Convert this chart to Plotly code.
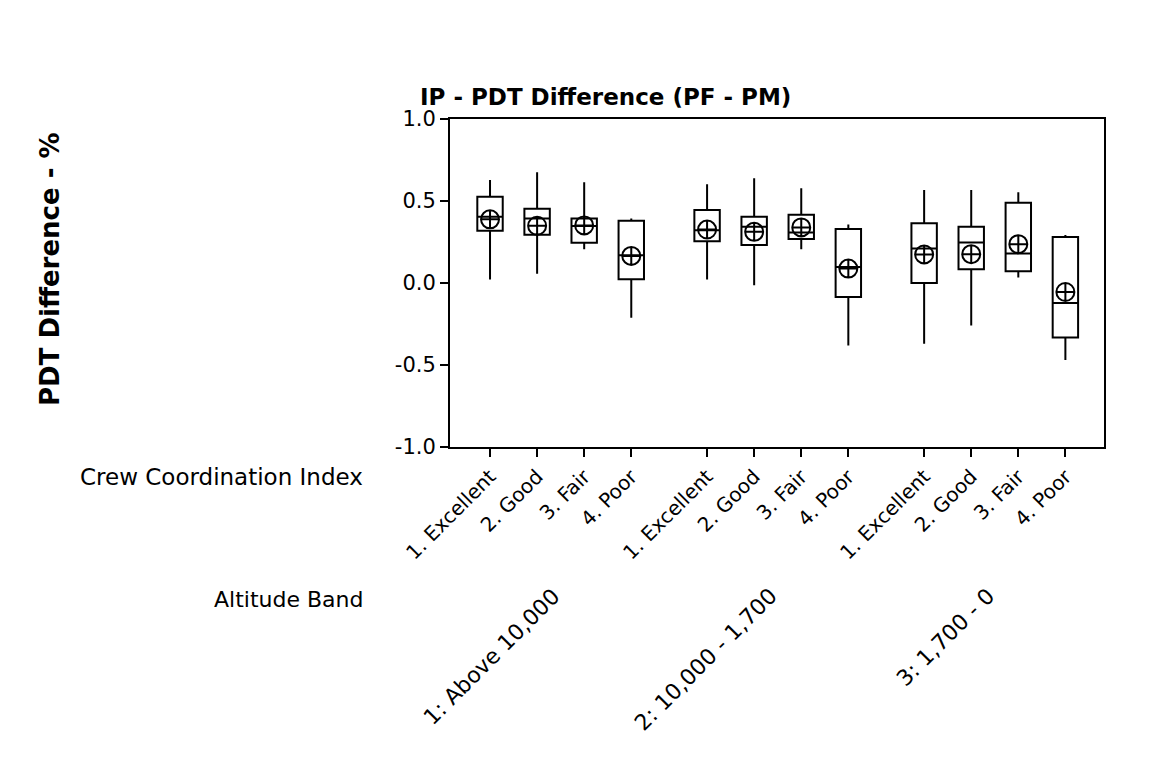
import plotly.graph_objects as go

# Crew coordination index within each altitude band
crew_levels = ["1. Excellent", "2. Good", "3. Fair", "4. Poor"]
altitude_bands = ["1: Above 10,000", "2: 10,000 - 1,700", "3: 1,700 - 0"]

# Box statistics per (band, crew level), in band order
whisker_low = [0.021, 0.057, 0.206, -0.212,
               0.021, -0.014, 0.206, -0.381,
               -0.371, -0.259, 0.033, -0.469]
q1_vals = [0.318, 0.294, 0.245, 0.023,
           0.255, 0.231, 0.269, -0.086,
           0.000, 0.084, 0.072, -0.332]
median_vals = [0.404, 0.394, 0.347, 0.169,
               0.322, 0.343, 0.308, 0.098,
               0.210, 0.247, 0.180, -0.122]
q3_vals = [0.526, 0.453, 0.394, 0.379,
           0.445, 0.404, 0.416, 0.330,
           0.365, 0.343, 0.489, 0.281]
whisker_high = [0.628, 0.675, 0.614, 0.394,
                0.602, 0.638, 0.577, 0.357,
                0.567, 0.567, 0.553, 0.292]
mean_vals = [0.388, 0.349, 0.351, 0.165,
             0.326, 0.312, 0.339, 0.088,
             0.174, 0.176, 0.237, -0.055]

y_ticks = [-1.0, -0.5, 0.0, 0.5, 1.0]

FONT = "DejaVu Sans"
GROUP_GAP = 1.61  # spacing between altitude bands, in box units

xpos = []
xlabels = []
for g, band in enumerate(altitude_bands):
    for i, lvl in enumerate(crew_levels):
        xpos.append(g * (len(crew_levels) - 1 + GROUP_GAP) + i)
        xlabels.append(lvl)

group_centers = [sum(xpos[g * 4:(g + 1) * 4]) / 4 for g in range(len(altitude_bands))]

fig = go.Figure()

fig.add_trace(go.Box(
    x=xpos,
    q1=q1_vals,
    median=median_vals,
    q3=q3_vals,
    lowerfence=whisker_low,
    upperfence=whisker_high,
    width=0.54,
    whiskerwidth=0,
    fillcolor="white",
    line=dict(color="black", width=2),
    boxpoints=False,
    showlegend=False,
    hoverinfo="skip",
))

fig.add_trace(go.Scatter(
    x=xpos,
    y=mean_vals,
    mode="markers",
    marker=dict(symbol="circle-cross-open", size=18,
                color="black", line=dict(color="black", width=2)),
    showlegend=False,
    hoverinfo="skip",
))

fig.update_xaxes(
    range=[-0.85, 13.04],
    tickmode="array",
    tickvals=xpos,
    ticktext=xlabels,
    tickangle=-45,
    ticks="outside",
    ticklen=8,
    tickwidth=2,
    tickcolor="black",
    showline=True,
    linecolor="black",
    linewidth=2,
    mirror=True,
    showgrid=False,
    zeroline=False,
    tickfont=dict(family=FONT, size=20, color="black"),
)

fig.update_yaxes(
    range=[-1.0, 1.0],
    tickmode="array",
    tickvals=y_ticks,
    ticktext=[f"{v:.1f}" for v in y_ticks],
    ticks="outside",
    ticklen=8,
    tickwidth=2,
    tickcolor="black",
    showline=True,
    linecolor="black",
    linewidth=2,
    mirror=True,
    showgrid=False,
    zeroline=False,
    tickfont=dict(family=FONT, size=21, color="black"),
)

annotations = [
    dict(text="<b>IP - PDT Difference (PF - PM)</b>", xref="paper", yref="paper",
         x=(605 - 450) / (1104 - 450), y=1.0, yshift=22, xanchor="center", yanchor="middle",
         showarrow=False, font=dict(family=FONT, size=23, color="black")),
    dict(text="<b>PDT Difference - %</b>", xref="paper", yref="paper",
         x=0, xshift=-400, y=0.5, yshift=14, xanchor="center", yanchor="middle", textangle=-90,
         showarrow=False, font=dict(family=FONT, size=26, color="black")),
    dict(text="Crew Coordination Index", xref="paper", yref="paper",
         x=0, xshift=-85, y=0, yshift=-30, xanchor="right", yanchor="middle",
         showarrow=False, font=dict(family=FONT, size=23, color="black")),
    dict(text="Altitude Band", xref="paper", yref="paper",
         x=0, xshift=-85, y=0, yshift=-152, xanchor="right", yanchor="middle",
         showarrow=False, font=dict(family=FONT, size=22, color="black")),
]
for c, band in zip(group_centers, altitude_bands):
    annotations.append(dict(
        text=band, xref="x", yref="paper", x=c, xshift=7, y=0, yshift=-134,
        xanchor="right", yanchor="top", textangle=-45, showarrow=False,
        font=dict(family=FONT, size=22, color="black")))

fig.update_layout(
    width=1149,
    height=772,
    margin=dict(l=450, r=45, t=119, b=325),
    paper_bgcolor="white",
    plot_bgcolor="white",
    annotations=annotations,
)

fig.write_html("out.html")
